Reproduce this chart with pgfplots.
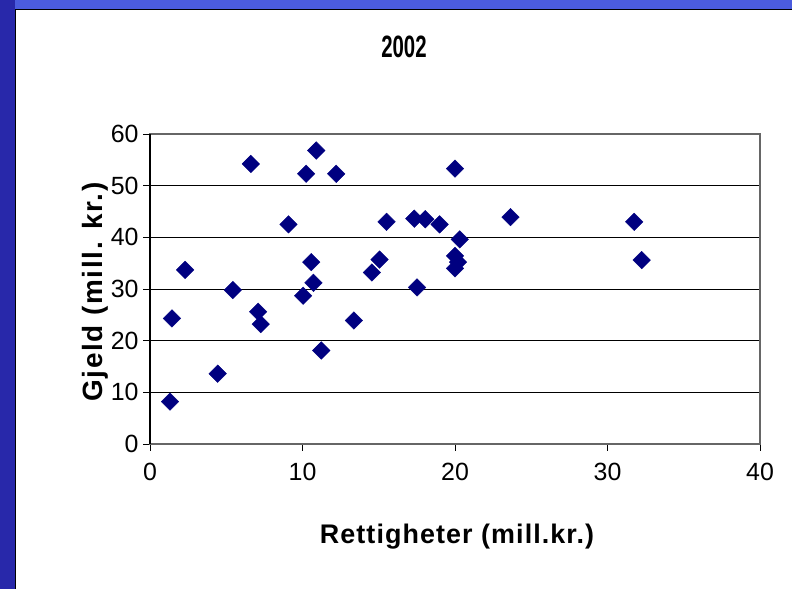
\documentclass[border=0pt]{standalone}
\usepackage{pgfplots}
\pgfplotsset{compat=1.18}
\usepackage{fontspec}
\setmainfont{Liberation Sans}
\definecolor{navy}{RGB}{0,0,128}
\definecolor{bgleft}{RGB}{40,40,170}
\definecolor{bgtop}{RGB}{75,92,222}
\begin{document}
\begin{tikzpicture}[x=1bp,y=1bp]
\path[use as bounding box] (0,0) rectangle (792,589);
\fill[bgleft] (0,0) rectangle (792,589);
\fill[bgtop] (15,580) rectangle (792,589);
\fill[white] (15,0) rectangle (792,580);
\draw[black,line width=0.8bp] (15,0) -- (15,580) -- (792,580);
\begin{axis}[
  at={(150bp,145bp)}, anchor=south west,
  scale only axis, width=610bp, height=310bp,
  xmin=0, xmax=40, ymin=0, ymax=60,
  xtick={0,10,20,30,40}, ytick={0,10,20,30,40,50,60},
  ymajorgrids, grid style={black, line width=0.9bp},
  axis line style={draw=gray!80!black, line width=1.2bp},
  tick style={black, line width=0.9bp},
  tick align=outside, major tick length=7bp,
  xtick pos=bottom, ytick pos=left,
  /pgf/number format/assume math mode=true,
  ticklabel style={font=\fontsize{25}{30}\selectfont},
  xticklabel style={yshift=-9bp},
  yticklabel style={xshift=-1bp},
  clip=false,
]
\addplot[only marks, mark=square*, mark size=6.2bp, mark options={rotate=45, fill=navy, draw=navy}] coordinates {
(1.31,8.2) (1.44,24.3) (2.30,33.7) (4.44,13.6) (5.43,29.8) (6.61,54.2)
(7.09,25.6) (7.26,23.2) (9.08,42.5) (10.04,28.7) (10.24,52.3) (10.57,35.2)
(10.72,31.2) (10.90,56.8) (11.23,18.1) (12.21,52.3) (13.37,23.9) (14.55,33.2)
(15.05,35.7) (15.51,43.0) (17.33,43.6) (17.51,30.3) (18.05,43.5) (18.99,42.5)
(20.0,53.3) (20.31,39.6) (20.0,36.4) (20.2,35.2) (20.0,34.0)
(23.64,43.9) (31.75,43.0) (32.24,35.6)
};
\draw[black, line width=1.2bp] (rel axis cs:0,0) -- (rel axis cs:0,1);
\end{axis}
\node[font=\bfseries\fontsize{31}{34}\selectfont] at (404,542) {\scalebox{0.66}[1]{2002}};
\node[font=\bfseries\fontsize{27}{32}\selectfont\addfontfeatures{LetterSpace=4}] at (457,52) {Rettigheter (mill.kr.)};
\node[font=\bfseries\fontsize{28}{32}\selectfont\addfontfeatures{LetterSpace=6}, rotate=90] at (95,297) {Gjeld (mill. kr.)};
\end{tikzpicture}
\end{document}
